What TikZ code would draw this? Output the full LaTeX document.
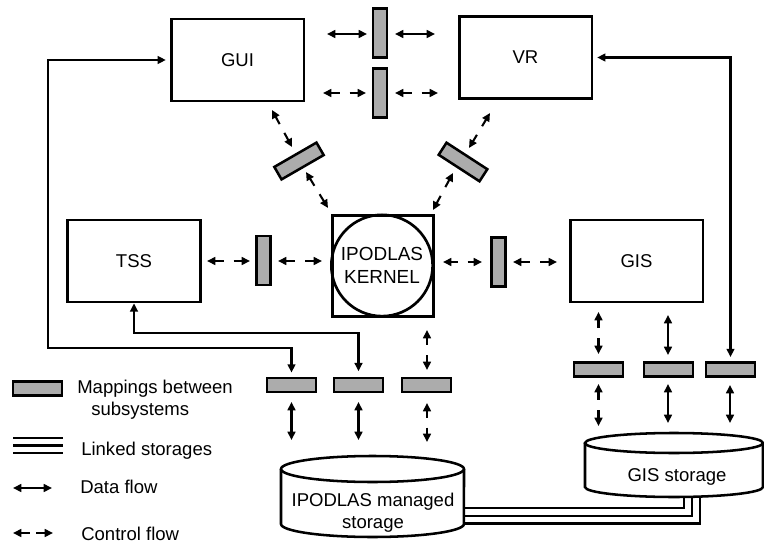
\documentclass[tikz,border=0pt]{standalone}
\usepackage{fontspec}
\setmainfont{Liberation Sans}
\usetikzlibrary{arrows.meta,calc}
\definecolor{mapgray}{RGB}{172,172,172}

% control flow: two short arrows pointing outwards with a gap between them
\newcommand{\ctrlflow}[3][3.75pt]{%
  \draw[flow,<-] (#2) -- ($(#2)!0.5!(#3)!#1!(#2)$);
  \draw[flow,->] ($(#2)!0.5!(#3)!#1!(#3)$) -- (#3);}

\begin{document}
\begin{tikzpicture}[x=0.75pt,y=-0.75pt,
  font=\fontsize{13.9}{16}\selectfont,
  >={Triangle[length=6.2pt,width=5.8pt]},
  sysbox/.style={draw,line width=2pt,minimum width=99.5pt,minimum height=61.5pt,inner sep=0pt},
  mapv/.style={draw,line width=1.9pt,fill=mapgray,minimum width=10.8pt,minimum height=36.5pt,inner sep=0pt},
  maph/.style={mapv,minimum width=36.5pt,minimum height=10.8pt},
  flow/.style={line width=1.55pt},
  data/.style={flow,<->},
  link/.style={line width=1.8pt},
  cyl/.style={line width=1.9pt},
  label/.style={inner sep=0pt}]
\useasboundingbox (0,0) rectangle (764,542);

% subsystems
\node[sysbox] (gui) at (237.5,60) {GUI};
\node[sysbox] (vr)  at (525.5,57.5) {VR};
\node[sysbox] (tss) at (134,261) {TSS};
\node[sysbox] (gis) at (636.5,261) {GIS};
\node[draw,line width=2pt,minimum size=76pt,inner sep=0pt] (kbox) at (383,266) {};
\node[draw,circle,line width=2pt,minimum size=76pt,inner sep=0pt,align=center,
      font=\fontsize{14.2}{17.25}\selectfont] (kernel) at (382,265.5) {IPODLAS\\KERNEL};

% mappings
\node[mapv] (mt1) at (380,33) {};
\node[mapv] (mt2) at (380,93) {};
\node[mapv] (ml)  at (263.5,260.5) {};
\node[mapv] (mr)  at (498.5,262) {};
\node[maph,rotate=30]  (mgl) at (299,161) {};
\node[maph,rotate=-33] (mvr) at (463,162) {};
\node[maph] (ms1) at (291.5,385) {};
\node[maph] (ms2) at (358.5,385) {};
\node[maph] (ms3) at (426.5,385) {};
\node[maph] (mg1) at (598.5,369.5) {};
\node[maph] (mg2) at (668.5,369.5) {};
\node[maph] (mg3) at (730.5,369.5) {};

% storages
\draw[cyl] (281,469) -- (281,524)
  arc[start angle=180,end angle=360,x radius=68.6pt,y radius=9.75pt] -- (464,469);
\draw[cyl] (372.5,469) ellipse[x radius=68.6pt,y radius=9.75pt];
\node[label,align=center,font=\fontsize{13.9}{16.5}\selectfont] (ist) at (373,513)
  {IPODLAS managed\\storage};
\draw[cyl] (585,443) -- (585,487)
  arc[start angle=180,end angle=360,x radius=66.75pt,y radius=7.5pt] -- (763,443);
\draw[cyl] (674,443) ellipse[x radius=66.75pt,y radius=7.5pt];
\node[label,anchor=base] (gst) at (677,481) {GIS storage};

\coordinate (istR) at (464,516);
\coordinate (gstB) at (692,497);
\draw[link] ([yshift=5.8pt]istR) -| ([xshift=-6pt]gstB);
\draw[link] (istR) -| (gstB);
\draw[link] ([yshift=-5.6pt]istR) -| ([xshift=6pt]gstB);

% long data connectors
\draw[data,shorten <=3pt,shorten >=3pt] (gui.west) -| (48,348) -| (ms1.north);
\draw[data,shorten >=4pt] (tss.south) -- (134,333) -| (ms2.north);
\draw[data,shorten <=3pt,shorten >=3pt] (mg3.north) |- (vr.east);

% flow end points
\coordinate (d1a) at (327,34);  \coordinate (d1b) at (367,34);
\coordinate (d2a) at (395,34);  \coordinate (d2b) at (435,34);
\coordinate (c1a) at (323,93);  \coordinate (c1b) at (366,93);
\coordinate (c2a) at (395,93);  \coordinate (c2b) at (438,93);
\coordinate (c3a) at (272,110); \coordinate (c3b) at (292,147);
\coordinate (c4a) at (306,172); \coordinate (c4b) at (328,208);
\coordinate (c5a) at (490,113); \coordinate (c5b) at (469,148);
\coordinate (c6a) at (453,173); \coordinate (c6b) at (433,210);
\coordinate (c7a) at (207,261); \coordinate (c7b) at (250,261);
\coordinate (c8a) at (278,261); \coordinate (c8b) at (322,261);
\coordinate (c9a) at (443,262); \coordinate (c9b) at (482,262);
\coordinate (c10a) at (513,262); \coordinate (c10b) at (557,262);
\coordinate (c11a) at (427,330); \coordinate (c11b) at (427,370);
\coordinate (c12a) at (427,403); \coordinate (c12b) at (427,442);
\coordinate (d3a) at (291.5,402); \coordinate (d3b) at (291.5,440);
\coordinate (d4a) at (358.5,402); \coordinate (d4b) at (358.5,440);
\coordinate (c13a) at (598.5,312); \coordinate (c13b) at (598.5,354);
\coordinate (c14a) at (598.5,384); \coordinate (c14b) at (598.5,426);
\coordinate (d5a) at (668,315); \coordinate (d5b) at (668,355);
\coordinate (d6a) at (668,384); \coordinate (d6b) at (668,423);
\coordinate (d7a) at (730,385); \coordinate (d7b) at (730,423);

\draw[data] (d1a) -- (d1b);
\draw[data] (d2a) -- (d2b);
\draw[data] (d3a) -- (d3b);
\draw[data] (d4a) -- (d4b);
\draw[data] (d5a) -- (d5b);
\draw[data] (d6a) -- (d6b);
\draw[data] (d7a) -- (d7b);
\ctrlflow{c1a}{c1b}
\ctrlflow{c2a}{c2b}
\ctrlflow{c3a}{c3b}
\ctrlflow{c4a}{c4b}
\ctrlflow{c5a}{c5b}
\ctrlflow{c6a}{c6b}
\ctrlflow{c7a}{c7b}
\ctrlflow{c8a}{c8b}
\ctrlflow{c9a}{c9b}
\ctrlflow{c10a}{c10b}
\ctrlflow{c11a}{c11b}
\ctrlflow{c12a}{c12b}
\ctrlflow{c13a}{c13b}
\ctrlflow{c14a}{c14b}

% legend
\node[maph] (lgmap) at (37.5,388.5) {};
\node[label,align=left,anchor=west,font=\fontsize{13.9}{16.5}\selectfont] (lgmaptxt) at (77,399.5)
  {Mappings between\\\hspace*{10.5pt}subsystems};
\draw[link] (13,438) -- (63,438);
\draw[link] (13,445.5) -- (63,445.5);
\draw[link] (13,453) -- (63,453);
\node[label,anchor=base west] (lglink) at (81,455) {Linked storages};
\coordinate (ld1) at (13,488); \coordinate (ld2) at (52,488);
\draw[data] (ld1) -- (ld2);
\node[label,anchor=base west] (lgdata) at (80,493) {Data flow};
\coordinate (lc1) at (13,533); \coordinate (lc2) at (53,533);
\ctrlflow[2.3pt]{lc1}{lc2}
\node[label,anchor=base west] (lgctrl) at (81,540) {Control flow};
\end{tikzpicture}
\end{document}
